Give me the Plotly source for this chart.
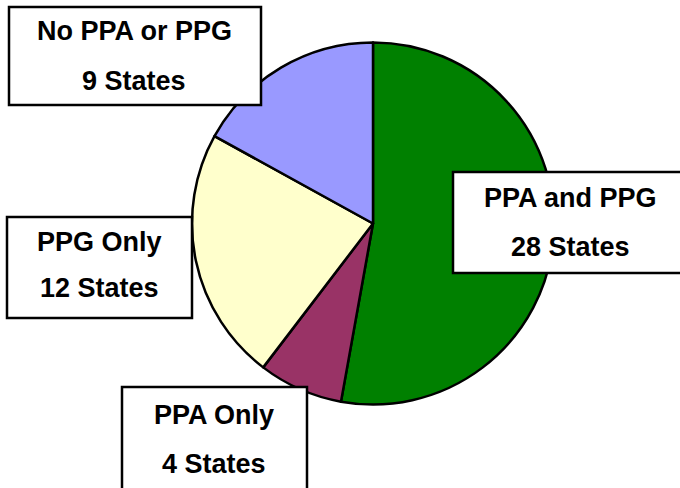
import plotly.graph_objects as go

# Data
labels = ["PPA and PPG", "PPA Only", "PPG Only", "No PPA or PPG"]
values = [28, 4, 12, 9]
colors = ["#008000", "#993366", "#FFFFCC", "#9999FF"]
count_text = ["28 States", "4 States", "12 States", "9 States"]

W, H = 680, 488

def px(x):
    return x / W

def py(y):
    return 1 - y / H

fig = go.Figure()
fig.add_trace(go.Pie(
    labels=labels, values=values, sort=False, direction="clockwise", rotation=0,
    marker=dict(colors=colors, line=dict(color="black", width=2.5)),
    textinfo="none", hoverinfo="label+value", showlegend=False,
    domain=dict(x=[px(192), px(554)], y=[py(405), py(42)]),
))

# label boxes: (x0, y0, x1, y1, x_center, y_line1, y_line2, font size)
boxes = {
    "No PPA or PPG": (9, 7, 261, 105, 134, 31, 81, 27),
    "PPA and PPG": (453, 172, 700, 273, 570, 198, 247, 27),
    "PPA Only": (122, 387, 307, 500, 214, 415, 464, 27),
    "PPG Only": (7, 217, 192, 318, 99, 242, 288, 27),
}

shapes = []
annotations = []
for lab, cnt in zip(labels, count_text):
    x0, y0, x1, y1, xc, yl1, yl2, fs = boxes[lab]
    shapes.append(dict(type="rect", xref="paper", yref="paper",
                       x0=px(x0), x1=px(x1), y0=py(y1), y1=py(y0),
                       fillcolor="white", line=dict(color="black", width=2.5),
                       layer="above"))
    for t, yy in ((lab, yl1), (cnt, yl2)):
        annotations.append(dict(text="<b>%s</b>" % t, x=px(xc), y=py(yy),
                                xref="paper", yref="paper", showarrow=False,
                                xanchor="center", yanchor="middle",
                                font=dict(family="Liberation Sans, Arial", size=fs, color="black")))

fig.update_layout(width=W, height=H, margin=dict(l=0, r=0, t=0, b=0),
                  paper_bgcolor="white", plot_bgcolor="white",
                  shapes=shapes, annotations=annotations)

fig.write_html("out.html", config={"displayModeBar": False},
               post_script="document.body.style.margin='0';document.body.style.overflow='hidden';")
